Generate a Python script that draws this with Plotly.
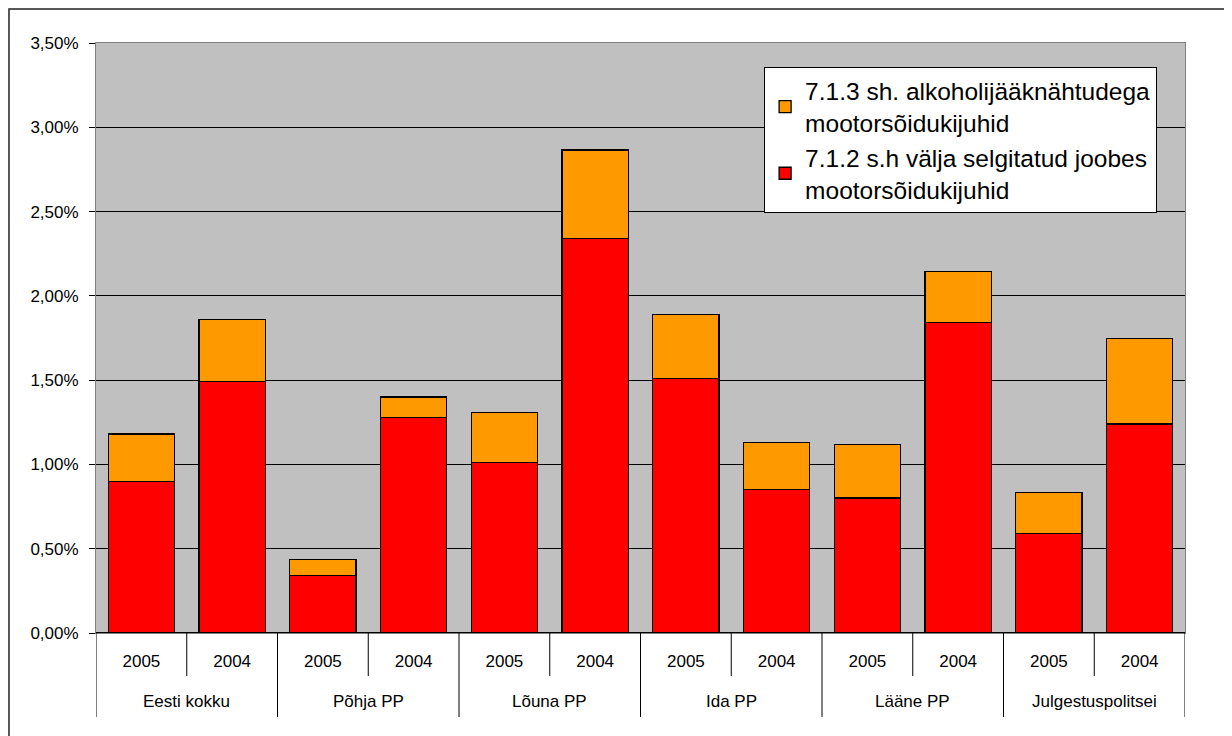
"""Stacked bar chart: drunk drivers share by police prefecture, 2005 vs 2004."""

import plotly.graph_objects as go

groups = ["Eesti kokku", "Põhja PP", "Lõuna PP", "Ida PP", "Lääne PP", "Julgestuspolitsei"]
years = ["2005", "2004"]

# values in percent, pairs per group: 2005, 2004
red_vals = [0.90, 1.49, 0.34, 1.28, 1.01, 2.34, 1.51, 0.85, 0.80, 1.84, 0.59, 1.24]
total_vals = [1.18, 1.86, 0.435, 1.40, 1.31, 2.865, 1.89, 1.13, 1.12, 2.145, 0.835, 1.745]
orange_vals = [round(t - r, 3) for t, r in zip(total_vals, red_vals)]

red_name = "7.1.2 s.h välja selgitatud joobes<br>mootorsõidukijuhid"
orange_name = "7.1.3 sh. alkoholijääknähtudega<br>mootorsõidukijuhid"

year_labels = [y for _ in groups for y in years]
x_pos = list(range(len(year_labels)))
n_years = len(years)

fig = go.Figure()
fig.add_trace(
    go.Bar(
        x=x_pos,
        y=red_vals,
        name=red_name,
        marker={"color": "#FF0000", "line": {"color": "black", "width": 1.3}},
    )
)
fig.add_trace(
    go.Bar(
        x=x_pos,
        y=orange_vals,
        name=orange_name,
        marker={"color": "#FF9900", "line": {"color": "black", "width": 1.3}},
    )
)

# short separators between the years, long ones between the groups
for i in range(len(x_pos) + 1):
    edge = i - 0.5
    is_group_edge = i % n_years == 0
    fig.add_shape(
        type="line", xref="x", yref="paper",
        x0=edge, x1=edge, y0=0, y1=-0.1424 if is_group_edge else -0.0729,
        line={"color": "black", "width": 1},
    )

# group names under the years
for k, g in enumerate(groups):
    fig.add_annotation(
        x=k * n_years + (n_years - 1) / 2, y=-0.1153,
        xref="x", yref="paper",
        text=g, showarrow=False, yanchor="middle",
        font={"size": 17},
    )

# outer frame of the chart (only left/top edges fall inside the picture)
fig.add_shape(
    type="rect", xref="paper", yref="paper",
    x0=-0.0799, x1=1.2, y0=-0.3, y1=1.0576,
    line={"color": "#222222", "width": 1.5}, layer="below",
)

# page body adds 8px margin, so the figure is 8px smaller and shifted
fig.update_layout(
    barmode="stack",
    bargap=0.27,
    width=1224,
    height=728,
    margin={"l": 88, "r": 47, "t": 35, "b": 103},
    paper_bgcolor="white",
    plot_bgcolor="#C0C0C0",
    separators=",.",
    font={"family": "Liberation Sans, Arial, sans-serif", "color": "black", "size": 17},
    legend={
        "x": 0.6135, "y": 0.959, "xanchor": "left", "yanchor": "top",
        "bgcolor": "white", "bordercolor": "black", "borderwidth": 1,
        "font": {"size": 24.5}, "traceorder": "reversed",
        "itemwidth": 30, "tracegroupgap": 0,
    },
    xaxis={
        "range": [-0.5, len(x_pos) - 0.5],
        "tickmode": "array", "tickvals": x_pos, "ticktext": year_labels,
        "ticks": "", "ticklabelstandoff": 13,
        "showgrid": False, "zeroline": False,
        "showline": True, "linecolor": "#808080", "mirror": True,
        "tickfont": {"size": 17},
    },
    yaxis={
        "range": [0, 3.5],
        "dtick": 0.5,
        "tickformat": ".2f",
        "ticksuffix": "%",
        "showgrid": True, "gridcolor": "black", "gridwidth": 1,
        "zeroline": True, "zerolinecolor": "black",
        "showline": True, "linecolor": "#808080", "mirror": True,
        "ticks": "outside", "ticklen": 6, "tickcolor": "black",
        "ticklabelstandoff": 7,
        "tickfont": {"size": 17},
    },
)

fig.write_html("out.html")
